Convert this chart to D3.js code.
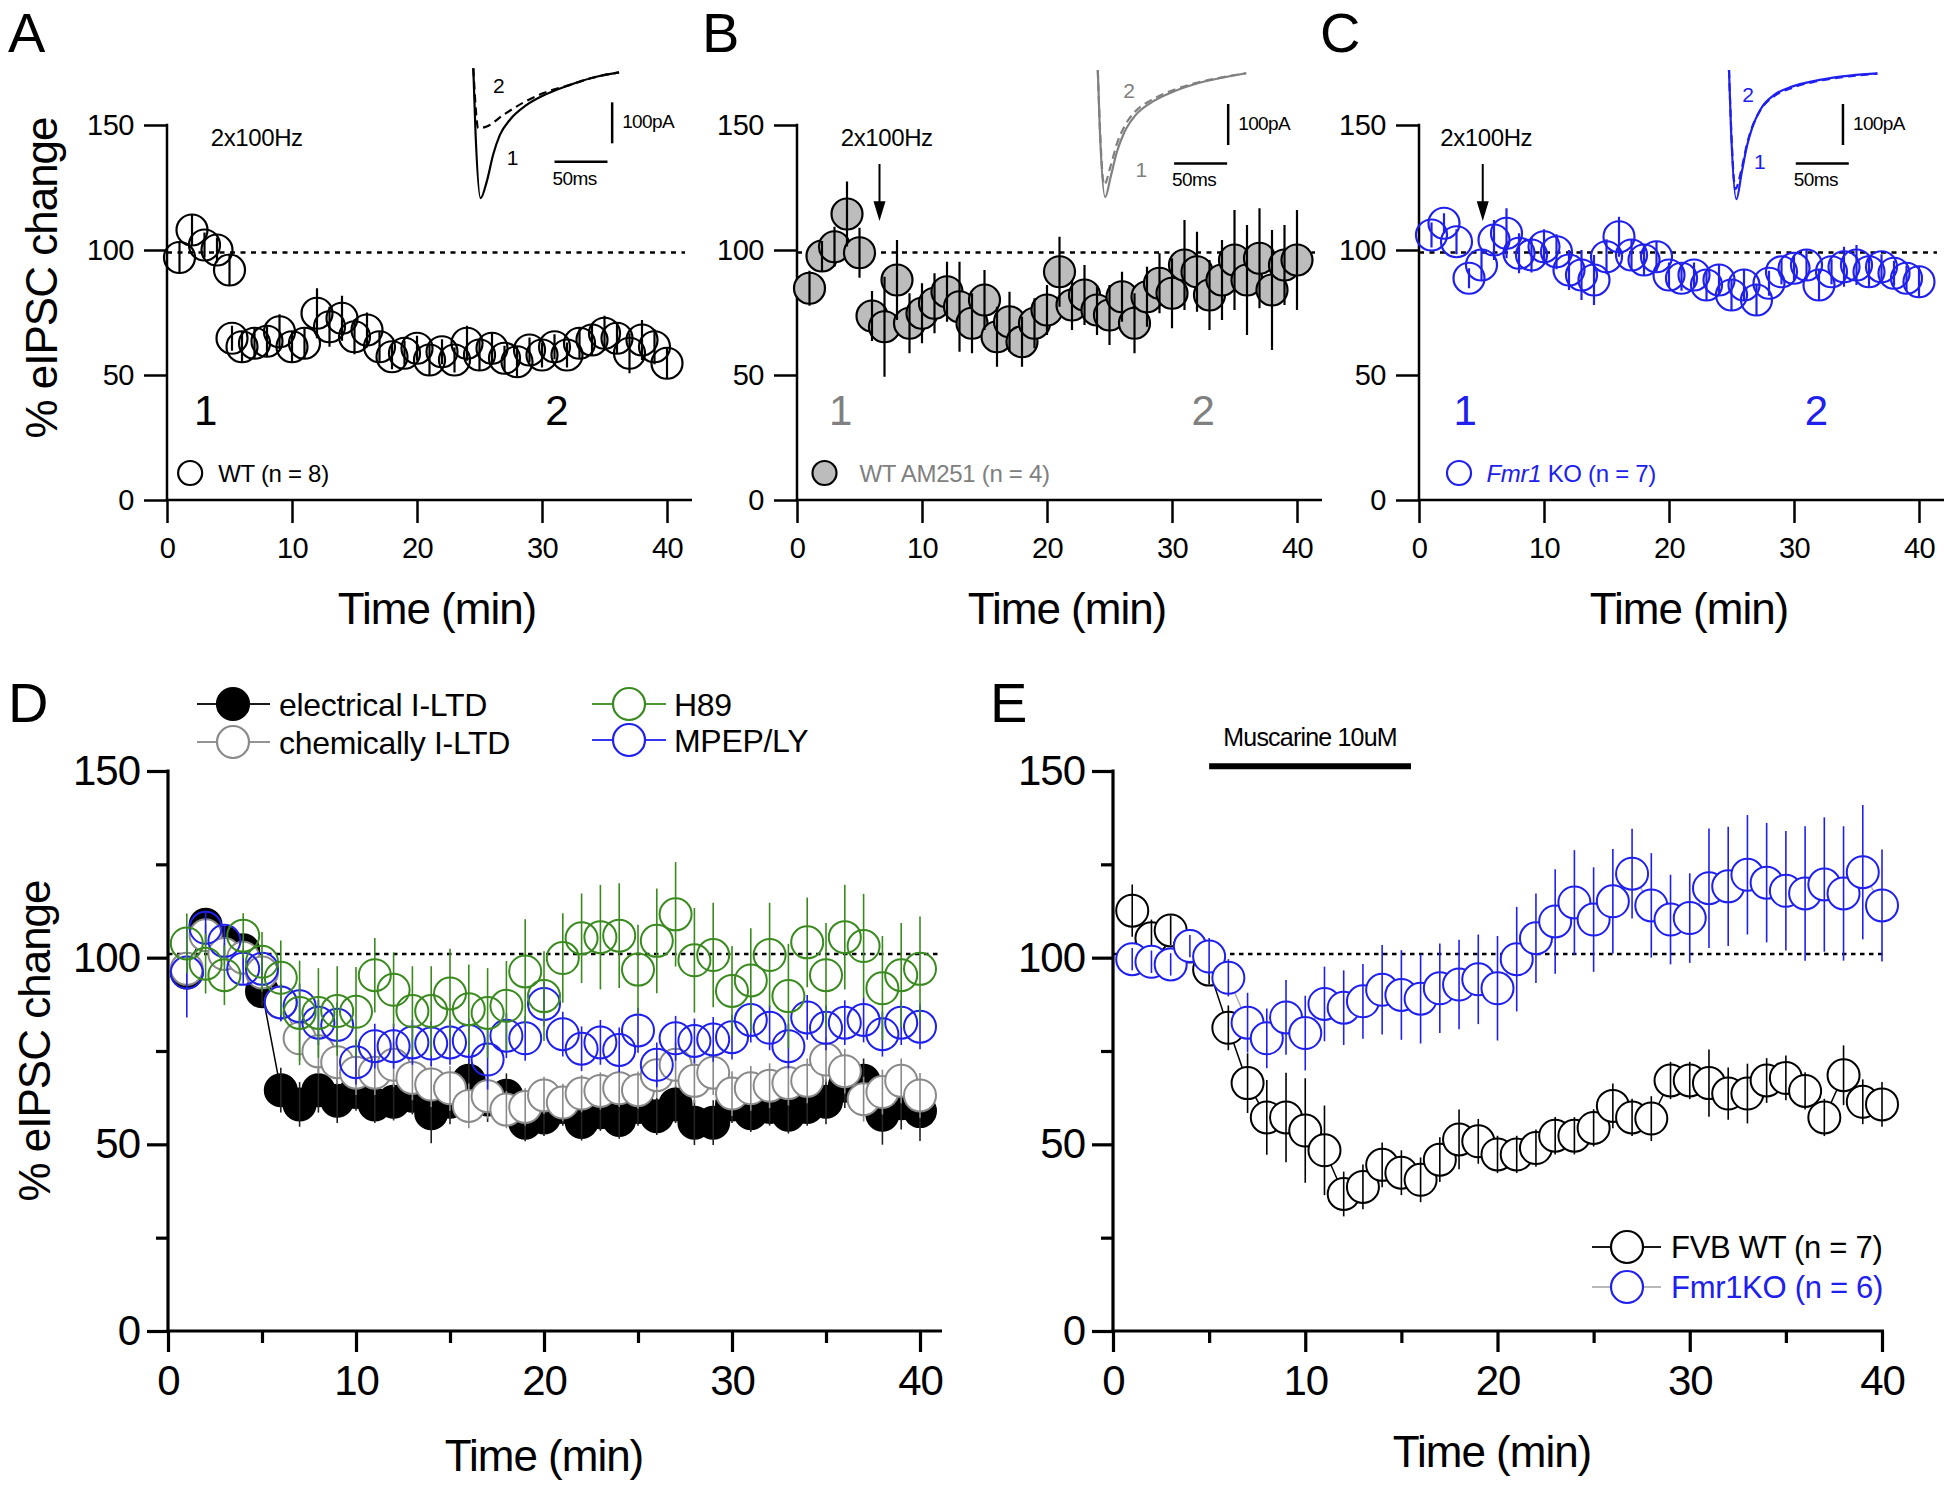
<!DOCTYPE html>
<html>
<head>
<meta charset="utf-8">
<script src="https://d3js.org/d3.v7.min.js"></script>
<style>
  body { margin: 0; background: #fff; }
  svg text { font-family: "Liberation Sans", Arial, sans-serif; }
</style>
</head>
<body>
<svg id="fig"></svg>
<script>
// ---- data ----
const minutes = [1,2,3,4,5,6,7,8,9,10,11,12,13,14,15,16,17,18,19,20,
                 21,22,23,24,25,26,27,28,29,30,31,32,33,34,35,36,37,38,39,40];
const timeA = [1,2,3,4,5,5.2,6,7,8,9,10,11,12,13,14,15,16,17,18,19,20,
               21,22,23,24,25,26,27,28,29,30,31,32,33,34,35,36,37,38,39,40];

// A: WT (n = 8)
const wtA = [97,108,102,100,92, 64.7,61.3,62.7,63.5,67.3,61.3,62.7,74.7,69.3,72.7,65.3,68,61.3,57.3,58.7,60.7,
             56,59.3,56,62.7,58,60.7,56.7,55.3,60,58,61.3,58,62.7,64,66.7,64.7,58.7,64,61.3,54.7];
const wtAErr = [6,6,5,5,6, 5,6,6,6,7, 6,6,10,8,9, 7,7,6,5,5, 5,6,5,5,7, 6,6,5,6,5, 5,5,5,6,6, 7,6,8,8,7,6];

// B: WT AM251 (n = 4)
const am251 = [84.7,97.6,101.3,114.4,98.9, 73.6,69.3,88,70.7,74.7, 78.7,83.3,77.3,70.7,80, 65.3,71.3,63.3,70.7,76,
               91.3,78,82,76,74, 81.3,70.7,81.3,86.7,82.7, 94,91.3,82,88,96, 88,96.7,84,94,96];
const am251Err = [7,6,8,13,10, 10,20,16,12,12, 12,12,18,12,12, 12,12,10,10,10,
                  14,10,12,10,12, 10,12,12,12,14, 18,16,14,16,20, 22,20,24,16,20];

// C: Fmr1 KO (n = 7)
const ko = [106,110.7,103.3,88.7,94, 104,106.7,98.7,98,101.3, 99.3,92,90,88,97.3, 105.3,98,96,97.3,90,
            88.7,90,86,88,82, 86,80,86.7,91.3,92.7, 94,86,91.3,93.3,94, 91.3,93.3,90.7,88.7,87.3];
const koErr = [5,4,5,4,6, 8,10,8,7,7, 7,8,10,10,7, 8,6,6,6,5, 5,5,6,6,6, 6,6,5,5,5, 6,6,5,8,8, 6,5,5,5,6];

// D: four conditions
const electrical = [96,108.8,104,102,91, 64.5,60.7,64.5,61.7,64, 60.7,61.4,63,58.3,61.4, 67,62,63,55.8,57.2,
                    60,56,58.6,56.5,60, 57.5,60.7,55.8,55.8,60.7, 58.3,60,57.9,60,61.4, 65.7,67,57.9,61,58.9];
const electricalErr = [4,3,3,3,4, 6,6,6,6,5, 5,5,5,8,6, 6,6,6,5,5, 5,5,5,5,5, 5,5,6,6,5, 5,5,5,5,6, 6,6,8,7,8];
const chemical = [97,106,101,100,96, 88,78.4,74.9,72,69.2, 69.2,71.3,67.8,66,65, 60.3,62.9,59.3,60,63.1,
                  61.2,63.6,64.3,65,64.5, 68.5,71.3,67,69.2,63.6, 65,65.7,66.4,67,72.7, 69.6,62.1,64,67,63.1];
const chemicalErr = [4,3,3,3,4, 5,6,6,6,6, 6,6,6,6,6, 6,6,5,5,5, 5,5,5,5,5, 6,6,6,6,6, 6,6,6,6,6, 6,6,6,6,6];
const h89 = [103.8,98.4,95.3,105.9,98.9, 94.6,85.2,85.2,85.7,85.5, 95.3,91.4,85.7,85.7,90.4, 86.2,85.2,87.1,96.3,89.7,
             99.9,105.2,105.5,105.9,96.8, 104.5,111.6,99.3,100.7,91.1, 93.9,100.7,89.7,104.1,95.3, 105.5,103.1,91.8,95.3,97];
const h89Err = [8,8,8,6,8, 10,14,12,12,12, 10,10,12,12,12, 12,12,12,14,12,
                12,12,14,14,12, 14,14,14,14,12, 14,14,14,12,14, 14,14,14,14,14];
const mpep = [96,108,104.5,97,97, 88,87,82.6,82,72, 76.3,76.3,77.3,77,77.3, 77.7,72.7,79.1,78.4,87.6,
              79.5,75.6,77.3,75.3,80.5, 71.3,78.4,77.7,78.1,78.7, 83.3,81.2,76.3,84,81.2, 82.6,83.3,79.5,82.6,81.5];
const mpepErr = [12,4,4,4,4, 5,6,6,6,6, 6,6,6,6,6, 6,8,6,6,6, 6,6,6,6,6, 6,6,6,6,6, 6,6,6,6,6, 6,6,6,6,6];

// E: muscarine
const fvbWT = [112.6,105.2,107.3,103,96.8, 81.2,66.4,57.2,57.2,53.7, 48.4,36.7,38.6,44.5,42.4, 40.5,45.9,51.3,50.8,47.3,
               47.3,49,52.3,52.3,54.4, 60.3,57.2,56.9,67.1,67.1, 66.4,63.6,63.6,67.1,67.8, 64.3,57.2,68.5,61.4,60.7];
const fvbWTErr = [7,5,4,4,4, 6,8,10,12,14, 12,6,6,6,6, 6,6,8,6,5, 5,5,5,5,5, 6,5,6,5,5, 9,7,8,6,6, 5,5,8,6,6];
const fmr1KO = [99.6,98.9,98.2,103.1,100.3, 94.6,82.6,78.4,84,79.8, 87.6,86.6,88.3,91.4,90, 89,91.8,92.8,94.2,91.8,
                99.6,105.2,109.7,114.8,110.2, 115.1,122.5,114,110.2,110.6, 118.6,119.1,122.2,120.1,117.9, 117.2,119.6,117.2,122.9,114];
const fmr1KOErr = [3,3,3,3,5, 5,8,8,10,10, 10,10,10,12,12, 12,12,12,12,14,
                   14,12,14,14,14, 14,12,14,12,12, 16,16,16,16,16, 18,18,18,18,15];

// inset traces: time (ms), current (pA); 1 = baseline, 2 = after induction
const traceA1t = [0,2,6.9,12.6,18.7,25,34.4,50,68.8,90.6,112.5,137.5];
const traceA1i = [0,-150,-317,-277,-211,-163,-126,-90,-63,-41,-23,-10];
const traceA2t = [0,4.7,12.6,28.2,46.9,65.6,90.6,112.5,137.5];
const traceA2i = [0,-146,-142,-114,-84,-61,-41,-23,-10];
const traceB1t = [0,2,7,12,18,25,35,50,70,92,115,140];
const traceB1i = [0,-150,-310,-262,-200,-152,-112,-80,-54,-34,-20,-8];
const traceB2t = [0,2,6,12,18,25,35,50,70,92,115,140];
const traceB2i = [0,-140,-280,-235,-180,-138,-102,-74,-50,-32,-19,-8];
const traceC1t = [0,2,7,12,17,22,30,42,60,80,105,140];
const traceC1i = [0,-150,-315,-250,-185,-140,-95,-62,-40,-27,-16,-8];
const traceC2t = [0,2,6,12,17,22,30,42,60,80,105,140];
const traceC2i = [0,-140,-290,-240,-180,-138,-96,-65,-43,-29,-18,-9];

const xTicks = [0,10,20,30,40];
const yTicks = [0,50,100,150];

// ---- drawing ----
const FONT = '"Liberation Sans", Arial, sans-serif';
const BLUE = "#2020ee", GREEN = "#3a8a1f", GREY = "#808080";

const svg = d3.select("#fig").attr("width", 1950).attr("height", 1485);
svg.append("rect").attr("width", 1950).attr("height", 1485).attr("fill", "#fff");

function makePanel(o) {
  return {
    x: d3.scaleLinear().domain([0, 40]).range([o.x0, o.x1]),
    y: d3.scaleLinear().domain([0, 150]).range([o.y0, o.y1]),
    g: svg.append("g")
  };
}

function addText(g, x, y, str, size, opts = {}) {
  return g.append("text")
    .attr("x", x).attr("y", y)
    .attr("text-anchor", opts.anchor || "start")
    .attr("fill", opts.color || "#000")
    .style("font-size", size + "px")
    .style("letter-spacing", (opts.ls || 0) + "px")
    .text(str);
}

function drawAxes(p, s) {
  const g = p.g.append("g");
  g.append("g").attr("transform", `translate(0,${p.y(0)})`)
    .call(d3.axisBottom(p.x).tickValues(xTicks).tickSize(s.tick).tickPadding(s.xpad).tickSizeOuter(0));
  g.append("g").attr("transform", `translate(${p.x(0)},0)`)
    .call(d3.axisLeft(p.y).tickValues(yTicks).tickSize(s.tick).tickPadding(s.ypad).tickSizeOuter(0));
  if (s.minor) {
    g.append("g").attr("transform", `translate(0,${p.y(0)})`)
      .call(d3.axisBottom(p.x).tickValues([5,15,25,35]).tickSize(s.minor).tickFormat("").tickSizeOuter(0));
    g.append("g").attr("transform", `translate(${p.x(0)},0)`)
      .call(d3.axisLeft(p.y).tickValues([25,75,125]).tickSize(s.minor).tickFormat("").tickSizeOuter(0));
  }
  g.selectAll(".domain").remove();
  g.selectAll(".tick line").attr("stroke", "#000").attr("stroke-width", s.lw);
  g.selectAll(".tick text").attr("fill", "#000")
    .style("font-family", FONT).style("font-size", s.fs + "px").style("letter-spacing", s.ls + "px");
  g.append("line")
    .attr("x1", p.x(0) - s.lw / 2).attr("x2", p.x(40) + s.ext)
    .attr("y1", p.y(0)).attr("y2", p.y(0))
    .attr("stroke", "#000").attr("stroke-width", s.lw);
  g.append("line")
    .attr("x1", p.x(0)).attr("x2", p.x(0))
    .attr("y1", p.y(150) - s.lw / 2).attr("y2", p.y(0))
    .attr("stroke", "#000").attr("stroke-width", s.lw);
  // dotted 100 % reference
  g.append("line")
    .attr("x1", p.x(0)).attr("x2", p.x(40) + s.dashExt)
    .attr("y1", p.y(s.ref)).attr("y2", p.y(s.ref))
    .attr("stroke", "#000").attr("stroke-width", s.dashW).attr("stroke-dasharray", s.dash);
}

function circles(g, p, t, v, r, fill, stroke, sw) {
  g.append("g").selectAll("circle").data(t).join("circle")
    .attr("cx", d => p.x(d)).attr("cy", (d, i) => p.y(v[i])).attr("r", r)
    .attr("fill", fill).attr("stroke", stroke).attr("stroke-width", sw);
}

function errBars(g, p, t, v, e, color, sw) {
  g.append("g").selectAll("line").data(t).join("line")
    .attr("x1", d => p.x(d)).attr("x2", d => p.x(d))
    .attr("y1", (d, i) => p.y(v[i] - e[i])).attr("y2", (d, i) => p.y(v[i] + e[i]))
    .attr("stroke", color).attr("stroke-width", sw);
}

function connect(g, p, t, v, color, sw) {
  g.append("path").datum(t)
    .attr("d", d3.line().x(d => p.x(d)).y((d, i) => p.y(v[i])))
    .attr("fill", "none").attr("stroke", color).attr("stroke-width", sw);
}

function inset(g, o) {
  const tx = d3.scaleLinear().domain([0, 50]).range([o.ox, o.ox + 53]);
  const iy = d3.scaleLinear().domain([0, -100]).range([o.oy, o.oy + 41]);
  const line = d3.line().x(d => tx(d[0])).y(d => iy(d[1])).curve(d3.curveMonotoneX);
  g.append("path").datum(d3.zip(o.t2, o.i2)).attr("d", line)
    .attr("fill", "none").attr("stroke", o.color).attr("stroke-width", 2.2).attr("stroke-dasharray", "8,5");
  g.append("path").datum(d3.zip(o.t1, o.i1)).attr("d", line)
    .attr("fill", "none").attr("stroke", o.color).attr("stroke-width", 2.2);
  // scale bars
  g.append("line").attr("x1", tx(o.vbar)).attr("x2", tx(o.vbar))
    .attr("y1", iy(-83)).attr("y2", iy(-183)).attr("stroke", "#000").attr("stroke-width", 2.5);
  addText(g, tx(o.vbar) + 10, iy(-146), "100pA", 19, { ls: -0.6 });
  g.append("line").attr("x1", tx(o.hbar)).attr("x2", tx(o.hbar + 50))
    .attr("y1", iy(-228)).attr("y2", iy(-228)).attr("stroke", "#000").attr("stroke-width", 2.5);
  addText(g, tx(o.hbar) - 2, iy(-284), "50ms", 19, { ls: -0.6 });
  addText(g, tx(o.lab2[0]), iy(o.lab2[1]) + 7, "2", 21, { anchor: "middle", color: o.color });
  addText(g, tx(o.lab1[0]), iy(o.lab1[1]) + 7, "1", 21, { anchor: "middle", color: o.color });
}

function arrow(g, p, t) {
  const x = p.x(t);
  g.append("line").attr("x1", x).attr("x2", x).attr("y1", p.y(134.4)).attr("y2", p.y(119))
    .attr("stroke", "#000").attr("stroke-width", 2);
  g.append("path")
    .attr("d", `M${x - 6},${p.y(119.5)} L${x + 6},${p.y(119.5)} L${x},${p.y(111.6)} Z`)
    .attr("fill", "#000");
}

const smallAxis = { tick: 23, minor: 0, xpad: 14, ypad: 10, fs: 29, ls: -0.5, lw: 2.5, ext: 25,
                    ref: 99, dashExt: 18, dashW: 2.5, dash: "5,5.5" };
const bigAxis = { tick: 21, minor: 12, xpad: 13, ypad: 7, fs: 42, ls: -1, lw: 3.2, ext: 22,
                  ref: 101, dashExt: 18, dashW: 2.5, dash: "4.5,4.5" };

function titles(p, letter, lx, lb, tcx, tb, ycx, ycy, ybase) {
  addText(p.g, lx, lb, letter, 56);
  addText(p.g, tcx, tb, "Time (min)", 44, { anchor: "middle", ls: -1 });
  if (ybase) {
    p.g.append("text")
      .attr("transform", `translate(${ybase},${ycy}) rotate(-90)`)
      .attr("text-anchor", "middle").attr("fill", "#000")
      .style("font-size", "44px").style("letter-spacing", "-1px")
      .text("% eIPSC change");
  }
}

// ---------- panels A, B, C ----------
const small = [
  { x0: 167, x1: 667, letter: "A", lx: 8, color: "#000",
    t: timeA, v: wtA, e: wtAErr, fill: "none", arrow: null, hz: 3.5,
    one: 3.1, two: 31.2, legC: 1.85, legT: 4.1, legend: "WT (n = 8)", legColor: "#000",
    ins: { ox: 473.3, oy: 68.3, t1: traceA1t, i1: traceA1i, t2: traceA2t, i2: traceA2i,
           vbar: 131, hbar: 76.6, lab1: [37, -219], lab2: [24, -43] } },
  { x0: 797, x1: 1297, letter: "B", lx: 702, color: GREY,
    t: minutes, v: am251, e: am251Err, fill: "#bcbcbc", arrow: 6.6, hz: 3.5,
    one: 3.5, two: 32.5, legC: 2.2, legT: 5.0, legend: "WT AM251 (n = 4)", legColor: GREY,
    ins: { ox: 1097.8, oy: 70, t1: traceB1t, i1: traceB1i, t2: traceB2t, i2: traceB2i,
           vbar: 123, hbar: 72, lab1: [41, -243], lab2: [29.6, -52] } },
  { x0: 1419, x1: 1919, letter: "C", lx: 1320, color: BLUE,
    t: minutes, v: ko, e: koErr, fill: "none", arrow: 5.1, hz: 1.7,
    one: 3.7, two: 31.8, legC: 3.2, legT: 5.4, legend: null, legColor: BLUE,
    ins: { ox: 1729, oy: 70, t1: traceC1t, i1: traceC1i, t2: traceC2t, i2: traceC2i,
           vbar: 107.5, hbar: 63, lab1: [29, -224], lab2: [18, -61] } }
];

small.forEach((c, k) => {
  const p = makePanel({ x0: c.x0, x1: c.x1, y0: 500, y1: 125 });
  drawAxes(p, smallAxis);
  titles(p, c.letter, c.lx, 52, (c.x0 + c.x1) / 2 + 20, 624, 0, 278, k === 0 ? 57 : 0);
  const stroke = k === 2 ? BLUE : "#000";
  circles(p.g, p, c.t, c.v, 15.5, c.fill, stroke, 2.2);
  errBars(p.g, p, c.t, c.v, c.e, stroke, 2.2);
  addText(p.g, p.x(c.hz), p.y(141.6), "2x100Hz", 24, { ls: -0.4 });
  if (c.arrow !== null) arrow(p.g, p, c.arrow);
  addText(p.g, p.x(c.one), p.y(30), "1", 42, { anchor: "middle", color: c.color });
  addText(p.g, p.x(c.two), p.y(30), "2", 42, { anchor: "middle", color: c.color });
  // legend
  p.g.append("circle").attr("cx", p.x(c.legC)).attr("cy", p.y(10.8)).attr("r", 12)
    .attr("fill", c.fill).attr("stroke", stroke).attr("stroke-width", 2.2);
  if (c.legend) {
    addText(p.g, p.x(c.legT), p.y(10.8) + 8.5, c.legend, 24, { color: c.legColor, ls: -0.3 });
  } else {
    const tx = addText(p.g, p.x(c.legT), p.y(10.8) + 8.5, "", 24, { color: c.legColor, ls: -0.3 });
    tx.append("tspan").style("font-style", "italic").text("Fmr1");
    tx.append("tspan").text(" KO (n = 7)");
  }
  inset(p.g, Object.assign({ color: c.color }, c.ins));
});

// ---------- panel D ----------
const pD = makePanel({ x0: 168, x1: 920, y0: 1331, y1: 771 });
drawAxes(pD, bigAxis);
titles(pD, "D", 8, 722, 544, 1471, 0, 1041, 50);
connect(pD.g, pD, minutes, electrical, "#000", 1.5);
circles(pD.g, pD, minutes, electrical, 16, "#000", "#000", 2);
errBars(pD.g, pD, minutes, electrical, electricalErr, "#222", 1.6);
connect(pD.g, pD, minutes, chemical, "#888", 1.5);
circles(pD.g, pD, minutes, chemical, 16, "#fff", "#8a8a8a", 2);
errBars(pD.g, pD, minutes, chemical, chemicalErr, "#8a8a8a", 1.6);
circles(pD.g, pD, minutes, mpep, 16, "none", BLUE, 2);
errBars(pD.g, pD, minutes, mpep, mpepErr, BLUE, 1.6);
circles(pD.g, pD, minutes, h89, 16, "none", GREEN, 2);
errBars(pD.g, pD, minutes, h89, h89Err, GREEN, 1.6);

function legendRow(g, cx, cy, lineColor, fill, stroke, label, textColor, size, x0, x1, tx) {
  g.append("line").attr("x1", x0).attr("x2", cx - 16).attr("y1", cy).attr("y2", cy)
    .attr("stroke", lineColor).attr("stroke-width", 1.8);
  g.append("line").attr("x1", cx + 16).attr("x2", x1).attr("y1", cy).attr("y2", cy)
    .attr("stroke", lineColor).attr("stroke-width", 1.8);
  g.append("circle").attr("cx", cx).attr("cy", cy).attr("r", 16)
    .attr("fill", fill).attr("stroke", stroke).attr("stroke-width", 2.2);
  addText(g, tx, cy + size * 0.36, label, size, { color: textColor, ls: -0.3 });
}
legendRow(pD.g, 233, 704, "#000", "#000", "#000", "electrical I-LTD", "#000", 32, 197, 270, 279);
legendRow(pD.g, 233, 742, "#888", "#fff", "#8a8a8a", "chemically I-LTD", "#000", 32, 197, 270, 279);
legendRow(pD.g, 629, 704, GREEN, "none", GREEN, "H89", "#000", 32, 592, 666, 674);
legendRow(pD.g, 629, 740, BLUE, "none", BLUE, "MPEP/LY", "#000", 32, 592, 666, 674);

// ---------- panel E ----------
const pE = makePanel({ x0: 1113, x1: 1882, y0: 1331, y1: 771 });
drawAxes(pE, Object.assign({}, bigAxis, { ext: 2, dashExt: 2 }));
titles(pE, "E", 990, 722, 1492, 1467, 0, 0, 0);
connect(pE.g, pE, minutes, fvbWT, "#000", 1.5);
circles(pE.g, pE, minutes, fvbWT, 16, "#fff", "#000", 2);
errBars(pE.g, pE, minutes, fvbWT, fvbWTErr, "#000", 1.6);
connect(pE.g, pE, minutes, fmr1KO, "#b0b0b0", 1.5);
circles(pE.g, pE, minutes, fmr1KO, 16, "#fff", BLUE, 2);
errBars(pE.g, pE, minutes, fmr1KO, fmr1KOErr, BLUE, 1.6);

// muscarine application bar
pE.g.append("line").attr("x1", pE.x(5)).attr("x2", pE.x(15.5))
  .attr("y1", pE.y(151.3)).attr("y2", pE.y(151.3)).attr("stroke", "#000").attr("stroke-width", 6);
addText(pE.g, (pE.x(5) + pE.x(15.5)) / 2, 746, "Muscarine 10uM", 25, { anchor: "middle", ls: -0.8 });

legendRow(pE.g, 1627, 1247, "#000", "#fff", "#000", "FVB WT (n = 7)", "#000", 31, 1592, 1661, 1671);
legendRow(pE.g, 1627, 1287, "#b0b0b0", "#fff", BLUE, "Fmr1KO (n = 6)", BLUE, 31, 1592, 1661, 1671);
</script>
</body>
</html>
